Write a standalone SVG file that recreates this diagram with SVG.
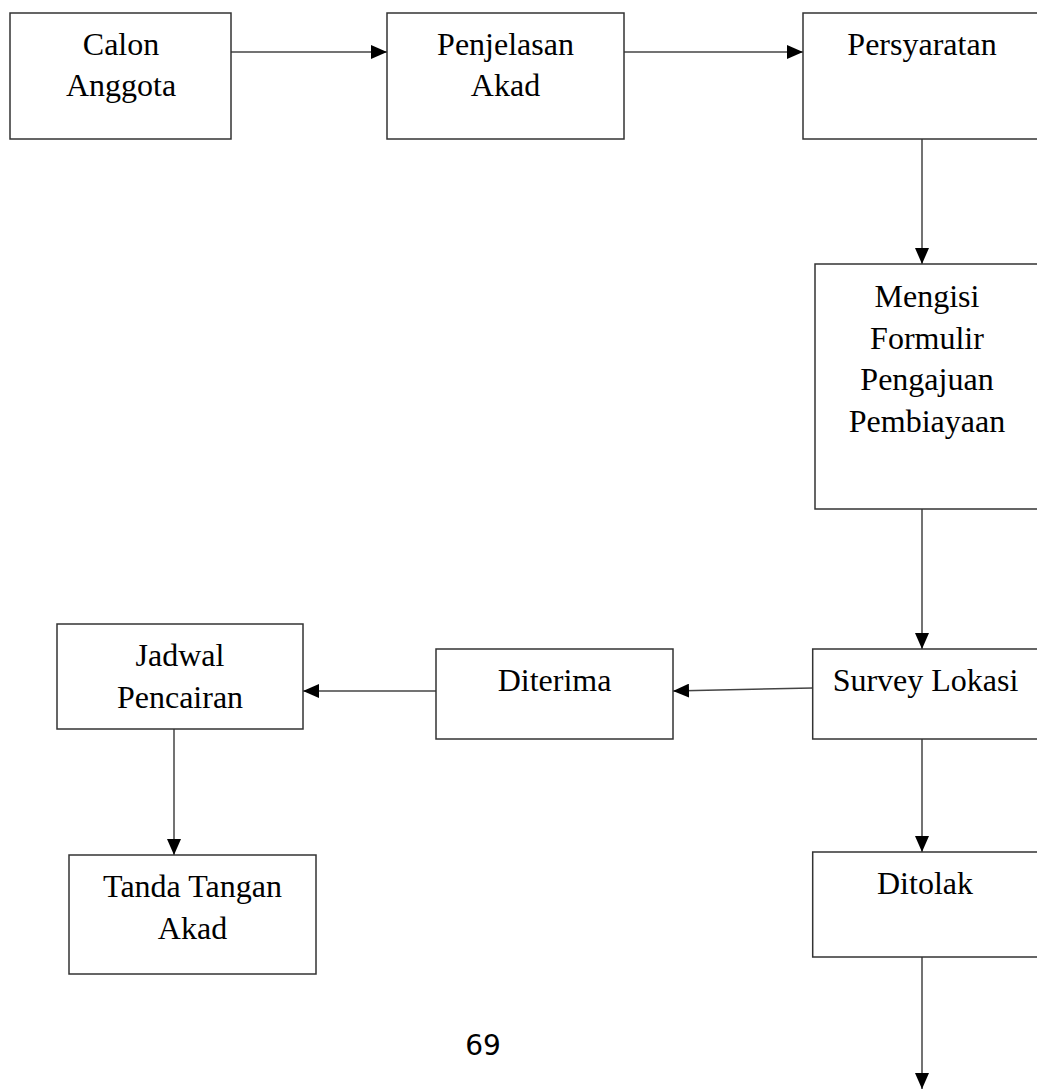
<svg xmlns="http://www.w3.org/2000/svg" width="1037" height="1089" viewBox="0 0 1037 1089">
<defs>
<marker id="arr" markerWidth="16" markerHeight="14" refX="16" refY="7" orient="auto" markerUnits="userSpaceOnUse">
<path d="M0,0 L16,7 L0,14 Z" fill="#000"/>
</marker>
<style>
.box{fill:#fff;stroke:#333;stroke-width:1.5}
.lbl{font-family:"Liberation Serif","Times New Roman",serif;font-size:32px;fill:#000;text-anchor:middle}
.con{stroke:#444;stroke-width:1.5;fill:none;marker-end:url(#arr)}
.pg{font-family:"DejaVu Sans",sans-serif;font-size:28px;fill:#000;text-anchor:middle}
</style>
</defs>
<rect width="1037" height="1089" fill="#fff"/>
<g id="connectors">
<line class="con" x1="231" y1="52" x2="387" y2="52"/>
<line class="con" x1="624" y1="52" x2="803" y2="52"/>
<line class="con" x1="922" y1="139" x2="922" y2="264"/>
<line class="con" x1="922" y1="509" x2="922" y2="649"/>
<line class="con" x1="812.7" y1="688" x2="673" y2="691"/>
<line class="con" x1="436" y1="691" x2="303" y2="691"/>
<line class="con" x1="174" y1="729" x2="174" y2="855"/>
<line class="con" x1="922" y1="739" x2="922" y2="852"/>
<line class="con" x1="922" y1="957" x2="922" y2="1089"/>
</g>
<g id="calon">
<rect class="box" x="10" y="13" width="221" height="126"/>
<text class="lbl" x="121" y="55">Calon</text>
<text class="lbl" x="121" y="96">Anggota</text>
</g>
<g id="penjelasan">
<rect class="box" x="387" y="13" width="237" height="126"/>
<text class="lbl" x="505.5" y="55">Penjelasan</text>
<text class="lbl" x="505.5" y="96">Akad</text>
</g>
<g id="persyaratan">
<rect class="box" x="803" y="13" width="240" height="126"/>
<text class="lbl" x="922" y="55">Persyaratan</text>
</g>
<g id="mengisi">
<rect class="box" x="815" y="264" width="230" height="245"/>
<text class="lbl" x="927" y="307">Mengisi</text>
<text class="lbl" x="927" y="349">Formulir</text>
<text class="lbl" x="927" y="390">Pengajuan</text>
<text class="lbl" x="927" y="432">Pembiayaan</text>
</g>
<g id="survey">
<rect class="box" x="812.7" y="649" width="232" height="90"/>
<text class="lbl" x="925.5" y="691">Survey Lokasi</text>
</g>
<g id="diterima">
<rect class="box" x="436" y="649" width="237" height="90"/>
<text class="lbl" x="554.5" y="691">Diterima</text>
</g>
<g id="jadwal">
<rect class="box" x="57" y="624" width="246" height="105"/>
<text class="lbl" x="180" y="666">Jadwal</text>
<text class="lbl" x="180" y="708">Pencairan</text>
</g>
<g id="tanda">
<rect class="box" x="69" y="855" width="247" height="119"/>
<text class="lbl" x="192.5" y="897">Tanda Tangan</text>
<text class="lbl" x="192.5" y="939">Akad</text>
</g>
<g id="ditolak">
<rect class="box" x="812.7" y="852" width="232" height="105"/>
<text class="lbl" x="925" y="894">Ditolak</text>
</g>
<text class="pg" x="483" y="1055">69</text>
</svg>
